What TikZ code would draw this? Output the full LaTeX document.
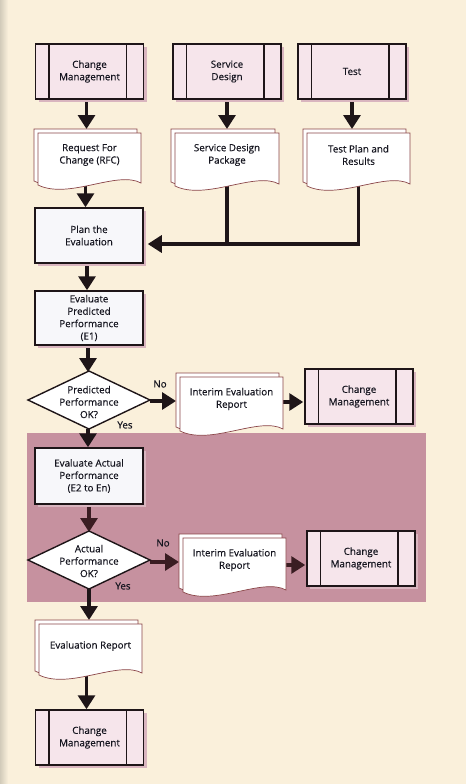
\documentclass[tikz,border=0pt]{standalone}
\usepackage{fontspec}
\setmainfont{Open Sans}
\newfontfamily\lblfont{Open Sans}[FakeBold=0.35]
\usetikzlibrary{arrows.meta,shadows,calc}
\definecolor{bgcream}{HTML}{FAF0DB}
\definecolor{stripgray}{HTML}{D2CBBA}
\definecolor{band}{HTML}{C6919F}
\definecolor{boxpink}{HTML}{F6E5EB}
\definecolor{boxwhite}{HTML}{F7F7FA}
\definecolor{shpink}{HTML}{D9B5BF}
\definecolor{ink}{HTML}{1E1518}
\definecolor{bandink}{HTML}{3A1D22}
\definecolor{docline}{HTML}{8A4548}
\definecolor{txt}{HTML}{15151F}
\pgfdeclarelayer{back}\pgfdeclarelayer{mid}\pgfdeclarelayer{shp}
\pgfsetlayers{back,mid,shp,main}
\tikzset{
  lbl/.style={font=\lblfont\fontsize{9.8}{12.4}\selectfont, text=txt, align=center},
  pbox/.style={lbl, draw=ink, line width=1.5pt, fill=boxpink, minimum width=108pt,
    minimum height=55pt, inner sep=0pt,
    drop shadow={shadow xshift=3pt, shadow yshift=-3pt, fill=shpink, opacity=1}},
  sbox/.style={lbl, draw=ink, line width=1.5pt, fill=boxwhite, minimum width=108pt,
    minimum height=55pt, inner sep=0pt,
    drop shadow={shadow xshift=3pt, shadow yshift=-3pt, fill=shpink, opacity=1}},
  hold/.style={inner sep=0pt, outer sep=0pt},
  conn/.style={draw=ink, line width=3.2pt},
  arr/.style={conn, -{Triangle[width=17pt,length=14pt]}},
}
\newcommand\stripes[1]{\draw[draw=ink,line width=1.5pt]
  ([xshift=14pt]#1.north west) -- ([xshift=14pt]#1.south west)
  ([xshift=-18pt]#1.north east) -- ([xshift=-18pt]#1.south east);}
\newcommand\docsheet[4]{%
  \pgfmathsetmacro\sxa{#1}\pgfmathsetmacro\sya{#2}%
  \pgfmathsetmacro\sxb{#3}\pgfmathsetmacro\syb{#4}%
  \pgfmathsetmacro\dw{\sxb-\sxa}%
  \pgfmathsetmacro\cxa{\sxb-0.23*\dw}\pgfmathsetmacro\cya{\syb-15}%
  \pgfmathsetmacro\cxb{\sxa+0.3*\dw}\pgfmathsetmacro\cyb{\syb+15}%
  \pgfmathsetmacro\syr{\syb-2}%
  \filldraw[fill=white, draw=docline, line width=0.7pt] (\sxa,\sya) -- (\sxb,\sya) -- (\sxb,\syr)
    .. controls (\cxa,\cya) and (\cxb,\cyb) .. (\sxa,\syb) -- cycle;}
% name, x1, y1 (front top), x2, yb (front bottom-left), text
\newcommand\docnode[6]{%
  \docsheet{#2-4}{#3-4}{#4-4}{#5-4}%
  \docsheet{#2}{#3}{#4}{#5}%
  \pgfmathsetmacro\dcx{(#2-4+#4)/2}%
  \pgfmathsetmacro\dcy{(#3-4+#5)/2}%
  \pgfmathsetmacro\dwd{#4-#2+4}%
  \pgfmathsetmacro\dht{#5-#3+4}%
  \node[hold, minimum width=\dwd pt, minimum height=\dht pt] (#1) at (\dcx,\dcy) {};
  \pgfmathsetmacro\tcx{(#2+#4)/2}%
  \pgfmathsetmacro\tcy{#3+22}%
  \node[lbl] (#1t) at (\tcx,\tcy) {#6};}
\begin{document}
\begin{tikzpicture}[x=1pt,y=-1pt]
\begin{pgfonlayer}{back}
\fill[bgcream] (0,0) rectangle (466,784);
\shade[left color=stripgray, right color=bgcream] (0,0) rectangle (8,784);
\fill[band] (27,433) rectangle (426,602);
\end{pgfonlayer}
\useasboundingbox (0,0) rectangle (466,784);

% top process boxes
\node[pbox] (cm1) at (89.5,71.5) {Change\\Management}; \stripes{cm1}
\node[pbox] (sd) at (227,71.5) {Service\\Design}; \stripes{sd}
\node[pbox] (test) at (352,71.5) {Test}; \stripes{test}

% documents
\docnode{rfc}{38}{133}{141}{185}{Request For\\Change (RFC)}
\docnode{sdp}{175}{133}{279}{186}{Service Design\\Package}
\docnode{tpr}{307}{133}{410}{186}{Test Plan and\\Results}

% process steps
\node[sbox] (plan) at (89,235.5) {Plan the\\Evaluation};
\node[sbox, minimum height=54pt] (evp) at (89,318) {Evaluate\\Predicted\\Performance\\(E1)};

% decision 1
\node[hold, minimum width=122pt, minimum height=58pt] (d1) at (89,400) {};
\begin{pgfonlayer}{shp}
\filldraw[fill=white, draw=ink, line width=1.4pt] (d1.west) -- (d1.north) -- (d1.east) -- (d1.south) -- cycle;
\end{pgfonlayer}
\node[lbl] (d1t) at (89,402) {Predicted\\Performance\\OK?};
\node[lbl] (no1) at (160,384) {No};
\node[lbl] (yes1) at (125,425) {Yes};
\docnode{ier1}{180}{377}{283}{431}{Interim Evaluation\\Report}
\node[pbox] (cm2) at (359,396.5) {Change\\Management}; \stripes{cm2}

% actual performance
\node[sbox, minimum height=56pt] (eva) at (89,476) {Evaluate Actual\\Performance\\(E2 to En)};
\node[hold, minimum width=122pt, minimum height=58pt] (d2) at (89,560) {};
\begin{pgfonlayer}{shp}
\filldraw[fill=white, draw=ink, line width=1.4pt] (d2.west) -- (d2.north) -- (d2.east) -- (d2.south) -- cycle;
\end{pgfonlayer}
\node[lbl] (d2t) at (89,561) {Actual\\Performance\\OK?};
\node[lbl] (no2) at (163,543) {No};
\node[lbl] (yes2) at (123,586) {Yes};
\docnode{ier2}{183}{538}{286}{592}{Interim Evaluation\\Report}
\node[pbox] (cm3) at (361,558.5) {Change\\Management}; \stripes{cm3}

% final
\docnode{er}{39}{624}{142}{675}{Evaluation Report}
\node[pbox] (cm4) at (89.5,737.5) {Change\\Management}; \stripes{cm4}

% connectors
\begin{pgfonlayer}{mid}
\draw[arr] ([xshift=-3pt]cm1.south) -- ([xshift=-3pt]cm1.south |- rfc.north);
\draw[arr] (sd.south) -- (sd.south |- sdp.north);
\draw[arr] (test.south) -- (test.south |- tpr.north);
\coordinate (js) at (227,244);
\coordinate (jt) at (358.5,244);
\draw[arr] ([xshift=-2pt]rfc.south) -- ([xshift=-2pt]rfc.south |- plan.north);
\draw[conn] (sdp.center -| js) -- (js);
\draw[arr] (tpr.center -| jt) -- (jt) -- ([xshift=4pt]jt -| plan.east);
\draw[arr] ([xshift=-2pt]plan.south) -- ([xshift=-2pt]plan.south |- evp.north);
\draw[arr] ([xshift=-1pt]evp.south) -- ([xshift=-1pt,yshift=-1pt]evp.south |- d1.north);
\draw[arr] ([yshift=-1pt]d1.east) -- ([yshift=-1pt]d1.east -| ier1.west);
\draw[arr] (ier1.center -| ier1.east) -- ([xshift=-1pt]ier1.east -| cm2.west);
\draw[arr] ([xshift=-1pt]d1.south) -- ([xshift=-1pt]d1.south |- eva.north);
\draw[arr, draw=bandink] (eva.south) -- ([yshift=-1pt]eva.south |- d2.north);
\draw[arr, draw=bandink] ([yshift=-2pt]d2.east) -- ([yshift=-2pt]d2.east -| ier2.west);
\draw[arr, draw=bandink] ([yshift=-2pt]ier2.center -| ier2.east) -- ([xshift=-1pt,yshift=-2pt]ier2.east -| cm3.west);
\draw[arr] (d2.south) -- (d2.south |- er.north);
\draw[arr] ([xshift=-2pt]er.center) -- ([xshift=-2pt]er.center |- cm4.north);
\end{pgfonlayer}
\end{tikzpicture}
\end{document}
